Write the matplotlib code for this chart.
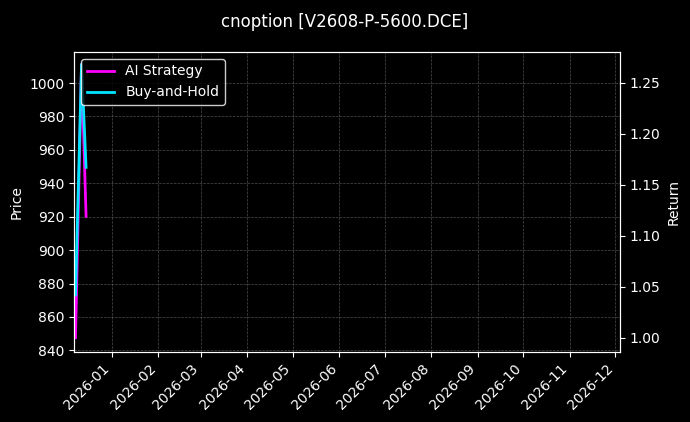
import matplotlib
matplotlib.use('Agg')
import matplotlib.pyplot as plt
import matplotlib.dates as mdates
import numpy as np

plt.style.use('dark_background')

dates = np.array(['2025-12-08', '2025-12-12', '2025-12-15'], dtype='datetime64[D]')
ai_return = [1.00, 1.268, 1.119]
bh_return = [1.042, 1.268, 1.167]

fig = plt.figure(figsize=(6.9, 4.22), dpi=100)
fig.patch.set_facecolor('black')
ax = fig.add_axes([74/690, 70/422, 546/690, 300/422])
ax.set_facecolor('black')
ax2 = ax.twinx()

ax2.plot(dates, ai_return, color='#ff00ff', lw=2, label='AI Strategy')
ax2.plot(dates, bh_return, color='#00e5ff', lw=2, label='Buy-and-Hold')

ax.set_xlim(np.datetime64('2025-12-07'), np.datetime64('2026-12-04'))
ax.set_ylim(839, 1018.6)
ax2.set_ylim(0.986, 1.280)
ax.set_ylabel('Price')
ax2.set_ylabel('Return')
ax.xaxis.set_major_locator(mdates.MonthLocator())
ax.xaxis.set_major_formatter(mdates.DateFormatter('%Y-%m'))
plt.setp(ax.get_xticklabels(), rotation=45, ha='right')
ax.grid(True, ls='--', lw=0.5, color='gray', alpha=0.6)
ax2.legend(loc='upper left', facecolor='black', edgecolor='white')
fig.suptitle('cnoption [V2608-P-5600.DCE]', y=0.97)

fig.savefig('out.png', dpi=100)
